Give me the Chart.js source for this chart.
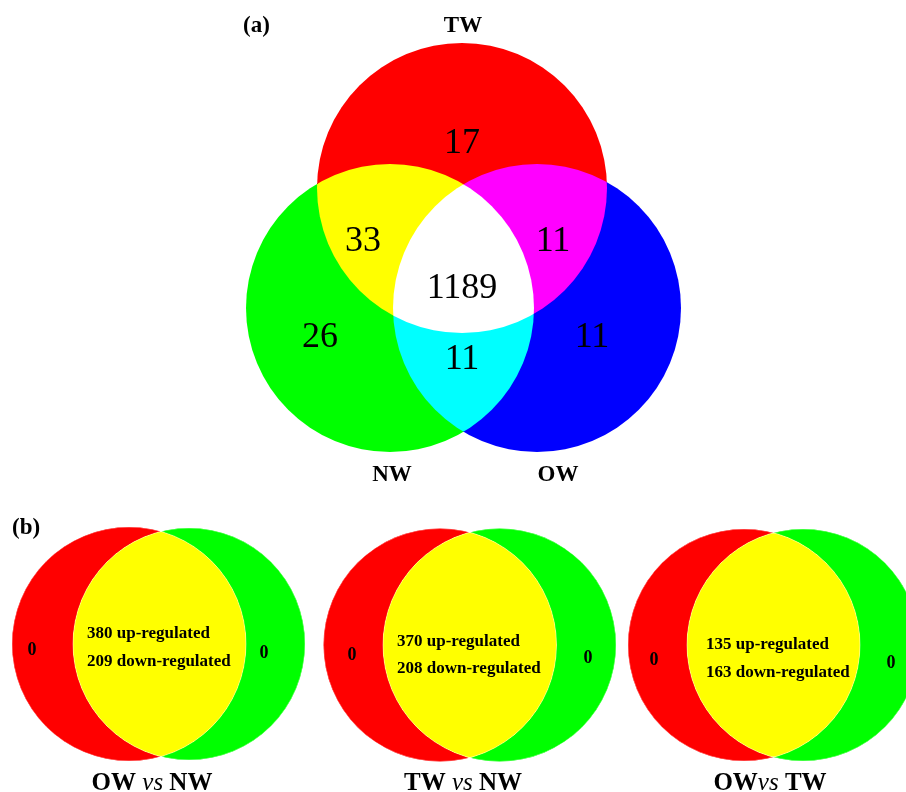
<!DOCTYPE html>
<html>
<head>
<meta charset="utf-8">
<script src="https://cdn.jsdelivr.net/npm/chart.js@4/dist/chart.umd.min.js"></script>
<style>
  html, body { margin: 0; padding: 0; background: #ffffff; }
  canvas { display: block; }
</style>
</head>
<body>
<canvas id="venn" width="906" height="792"></canvas>
<script>
// ---- Panel (a): proteins shared between the three treatments ----
const SETS = ['TW', 'NW', 'OW'];
const REGIONS = ['TW', 'TW∩NW', 'TW∩OW', 'TW∩NW∩OW', 'NW', 'NW∩OW', 'OW'];
const REGION_COUNTS = [17, 33, 11, 1189, 26, 11, 11];

// ---- Panel (b): pairwise comparisons ----
const PAIRS = [['OW', 'NW'], ['TW', 'NW'], ['OW', 'TW']];
const UP_REGULATED = [380, 370, 135];
const DOWN_REGULATED = [209, 208, 163];
const ONLY_FIRST = [0, 0, 0];
const ONLY_SECOND = [0, 0, 0];

// ---- Layout (canvas units on hidden linear axes) ----
const SET_CIRCLES = {
  TW: { x: 462, y: 188, r: 145 },
  NW: { x: 390, y: 308, r: 144 },
  OW: { x: 537, y: 308, r: 144 }
};
const SET_LABEL_POS = { TW: [463, 32], NW: [392, 481], OW: [558, 481] };
const REGION_ANCHORS = [[462, 153], [363, 251], [553, 251], [462, 298], [320, 347], [462, 369], [592, 347]];

const PAIR_CIRCLES = [
  [{ x: 129, y: 644, r: 117 }, { x: 189, y: 644, r: 116 }],
  [{ x: 440, y: 645, r: 116.5 }, { x: 499.5, y: 645, r: 116.5 }],
  [{ x: 744, y: 645, r: 116 }, { x: 803, y: 645, r: 116 }]
];
const PAIR_TEXT_LEFT = [87, 397, 706];
const PAIR_TEXT_BASE = [[638, 666], [646, 673], [649, 677]];
const PAIR_ZERO_POS = [
  [[32, 655], [264, 658]],
  [[352, 660], [588, 663]],
  [[654, 665], [891, 668]]
];
const PAIR_TITLE_X = [152, 463, 770];
const PAIR_TITLE_SPACED = [true, true, false];

// ---- Styles ----
const SET_COLORS = { TW: '#ff0000', NW: '#00ff00', OW: '#0000ff' };
const PAIR_COLORS = ['#ff0000', '#00ff00'];
const SERIF = "'Liberation Serif', 'Times New Roman', Times, serif";

// radius expressed in axis units, converted to pixels through the x scale
function radiusFromScale(ctx) {
  if (!ctx.raw) return 0;
  const s = ctx.chart.scales.x;
  return Math.abs(s.getPixelForValue(ctx.raw.r) - s.getPixelForValue(0));
}

const datasets = [];
SETS.forEach(name => {
  const c = SET_CIRCLES[name];
  datasets.push({
    label: name,
    data: [{ x: c.x, y: c.y, r: c.r }],
    backgroundColor: SET_COLORS[name],
    pointBorderWidth: 0,
    pointRadius: radiusFromScale,
    pointHoverRadius: radiusFromScale
  });
});
[0, 1].forEach(side => {
  datasets.push({
    label: side === 0 ? 'first' : 'second',
    data: PAIR_CIRCLES.map(p => ({ x: p[side].x, y: p[side].y, r: p[side].r })),
    backgroundColor: PAIR_COLORS[side],
    pointBorderColor: 'rgba(255,255,255,0.45)',
    pointBorderWidth: 1,
    pointRadius: radiusFromScale,
    pointHoverRadius: radiusFromScale
  });
});

// additive light mixing: red+green=yellow, red+blue=magenta, green+blue=cyan, all=white
const additiveMix = {
  id: 'additiveMix',
  beforeDatasetsDraw(chart) {
    chart.ctx.save();
    chart.ctx.globalCompositeOperation = 'lighter';
  },
  afterDatasetsDraw(chart) {
    chart.ctx.restore();
  }
};

function put(ctx, text, x, y, font, align) {
  ctx.font = font;
  ctx.textAlign = align || 'center';
  ctx.textBaseline = 'alphabetic';
  ctx.fillStyle = '#000000';
  ctx.fillText(text, x, y);
}

const vennText = {
  id: 'vennText',
  afterDraw(chart) {
    const ctx = chart.ctx;
    const sx = v => chart.scales.x.getPixelForValue(v);
    const sy = v => chart.scales.y.getPixelForValue(v);
    ctx.save();

    // panel letters
    put(ctx, '(a)', sx(243), sy(32), `bold 23px ${SERIF}`, 'left');
    put(ctx, '(b)', sx(12), sy(534), `bold 23px ${SERIF}`, 'left');

    // set names
    SETS.forEach(name => {
      const p = SET_LABEL_POS[name];
      put(ctx, name, sx(p[0]), sy(p[1]), `bold 23px ${SERIF}`, 'center');
    });

    // region counts
    REGION_COUNTS.forEach((v, i) => {
      const p = REGION_ANCHORS[i];
      put(ctx, String(v), sx(p[0]), sy(p[1]), `36px ${SERIF}`, 'center');
    });

    // pairwise panels
    PAIRS.forEach((pair, i) => {
      const lx = sx(PAIR_TEXT_LEFT[i]);
      put(ctx, `${UP_REGULATED[i]} up-regulated`, lx, sy(PAIR_TEXT_BASE[i][0]), `bold 17px ${SERIF}`, 'left');
      put(ctx, `${DOWN_REGULATED[i]} down-regulated`, lx, sy(PAIR_TEXT_BASE[i][1]), `bold 17px ${SERIF}`, 'left');
      const z = PAIR_ZERO_POS[i];
      put(ctx, String(ONLY_FIRST[i]), sx(z[0][0]), sy(z[0][1]), `bold 18px ${SERIF}`, 'center');
      put(ctx, String(ONLY_SECOND[i]), sx(z[1][0]), sy(z[1][1]), `bold 18px ${SERIF}`, 'center');

      // comparison title with italic "vs"
      const bold = `bold 25px ${SERIF}`;
      const ital = `italic 25px ${SERIF}`;
      const parts = [
        [pair[0] + (PAIR_TITLE_SPACED[i] ? ' ' : ''), bold],
        ['vs', ital],
        [' ' + pair[1], bold]
      ];
      let total = 0;
      parts.forEach(p => { ctx.font = p[1]; total += ctx.measureText(p[0]).width; });
      let x = sx(PAIR_TITLE_X[i]) - total / 2;
      const y = sy(790);
      parts.forEach(p => {
        put(ctx, p[0], x, y, p[1], 'left');
        ctx.font = p[1];
        x += ctx.measureText(p[0]).width;
      });
    });

    ctx.restore();
  }
};

new Chart(document.getElementById('venn'), {
  type: 'scatter',
  data: { datasets },
  options: {
    responsive: false,
    animation: false,
    events: [],
    layout: { padding: 0 },
    scales: {
      x: { type: 'linear', min: 0, max: 906, display: false },
      y: { type: 'linear', min: 0, max: 792, reverse: true, display: false }
    },
    plugins: {
      legend: { display: false },
      tooltip: { enabled: false }
    }
  },
  plugins: [additiveMix, vennText]
});
</script>
</body>
</html>
